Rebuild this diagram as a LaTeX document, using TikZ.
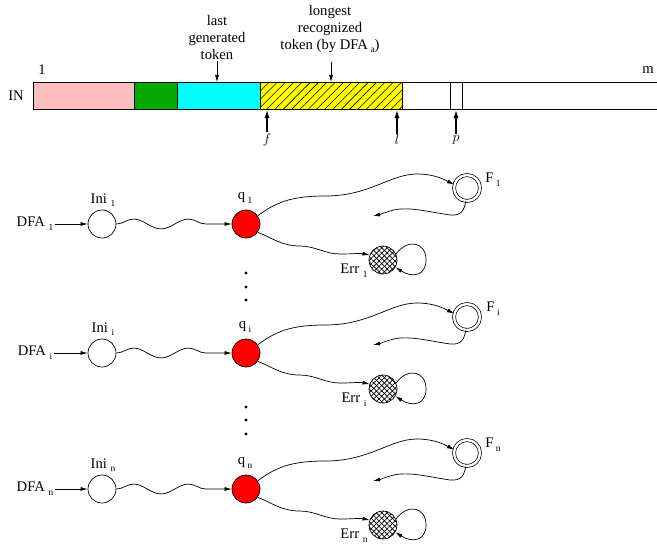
\documentclass[tikz,border=0pt]{standalone}
\usepackage{fontspec}
\setmainfont{Liberation Serif}
\usepackage{tikz}
\usetikzlibrary{positioning, calc}
\usetikzlibrary{decorations.pathmorphing}
\usetikzlibrary{patterns.meta}
\usetikzlibrary{arrows.meta}

\definecolor{pinkcell}{RGB}{255,190,190}
\definecolor{greencell}{RGB}{0,168,0}
\definecolor{cyancell}{RGB}{0,255,255}
\definecolor{yellowcell}{RGB}{255,255,0}
\definecolor{redstate}{RGB}{255,0,0}
\newcommand{\lsub}[1]{\raisebox{-0.55ex}{\footnotesize #1}}

\begin{document}
\begin{tikzpicture}[x=0.03cm, y=-0.03cm, >={Latex[length=6pt,width=3.4pt]}, line width=0.6pt,
    font=\fontsize{12.5}{14.5}\selectfont,
    state/.style={circle, draw, minimum size=0.84cm, inner sep=0pt},
    current/.style={state, fill=redstate},
    final/.style={circle, draw, double, double distance=2pt, minimum size=0.78cm, inner sep=0pt},
    errstate/.style={state, pattern={Lines[angle=45,distance=3.2pt]},
        postaction={pattern={Lines[angle=-45,distance=3.2pt]}}},
    wavy/.style={decorate, decoration={snake, amplitude=4.2pt, segment length=1.65cm, post length=4pt}},
    pointer/.style={->, line width=1.1pt, >={Latex[length=7pt,width=4.5pt]}},
    lbl/.style={inner sep=1pt}]
    \useasboundingbox (0,0) rectangle (657,550);

    % input tape
    \fill[pinkcell] (33,82) rectangle (134,109);
    \fill[greencell] (134,82) rectangle (177,109);
    \fill[cyancell] (177,82) rectangle (260,109);
    \fill[yellowcell] (260,82) rectangle (402,109);
    \fill[pattern={Lines[angle=45,distance=5pt,line width=0.5pt]}] (260,82) rectangle (402,109);
    \draw (657,82) -- (33,82) -- (33,109) -- (657,109);
    \foreach \x in {134,177,260,402,450,462}{
        \draw (\x,82) -- (\x,109);
    }
    \node[lbl] (in) at (16,96) {IN};
    \node[lbl] (first) at (42,70) {1};
    \node[lbl] (last) at (648,70) {m};

    \node[lbl, align=center] (gen) at (217,37) {last\\generated\\token};
    \coordinate (genpos) at (217,82);
    \draw[->] (gen) -- (genpos);
    \node[lbl, align=center] (lng) at (330,29) {longest\\recognized\\token (by DFA\,\lsub{a})};
    \coordinate (lngpos) at (331,82);
    \draw[->, shorten <=6pt] (lng.south -| lngpos) -- (lngpos);

    \foreach \n/\x in {f/267, l/397, p/456}{
        \node[lbl] (\n) at (\x,140) {$\n$};
        \coordinate (\n at) at (\x,110);
        \draw[pointer] (\n) -- (\n at);
    }

    % the automata
    \foreach \r/\y in {1/224, i/353, n/489}{
        \begin{scope}[shift={(0,\y)}]
            \node[lbl] (dfa\r) at (35,0) {DFA \lsub{\r}};
            \node[state] (ini\r) at (102,0) {};
            \node[current] (q\r) at (246,0) {};
            \node[final] (f\r) at (467,-36) {};
            \node[errstate] (err\r) at (383,36) {};
            \coordinate (back\r) at (373,-8);

            \node[lbl] at (103,-24) {Ini \lsub{\r}};
            \node[lbl] at (245,-26) {q\,\lsub{\r}};
            \node[lbl] at (493,-44) {F\,\lsub{\r}};
            \node[lbl] at (354,47) {Err \lsub{\r}};

            \draw[->] (dfa\r) -- (ini\r);
            \draw[->, wavy] (ini\r) -- (q\r);
            \draw[->] (q\r.35) .. controls (275,-21) and (290,-28) .. (325,-28)
                .. controls (370,-28) and (390,-50) .. (417,-50)
                .. controls (435,-50) and (445,-44) .. (f\r.165);
            \draw[->] (f\r.265) .. controls (464,-14) and (462,-8) .. (450,-9)
                .. controls (430,-12) and (415,-16) .. (400,-15)
                .. controls (390,-14) and (382,-10) .. (back\r);
            \draw[->] (q\r.-35) .. controls (272,14) and (282,22) .. (300,22)
                .. controls (315,22) and (325,30) .. (340,30)
                .. controls (352,30) and (360,29) .. (err\r.160);
            \draw[->] (err\r.25) .. controls (408,14) and (426,18) .. (426,36)
                .. controls (426,52) and (412,54) .. (err\r.-30);
        \end{scope}
    }
    \foreach \y in {273,287,300,407,420,434}{
        \fill (246,\y) circle (1.4pt);
    }
\end{tikzpicture}
\end{document}
